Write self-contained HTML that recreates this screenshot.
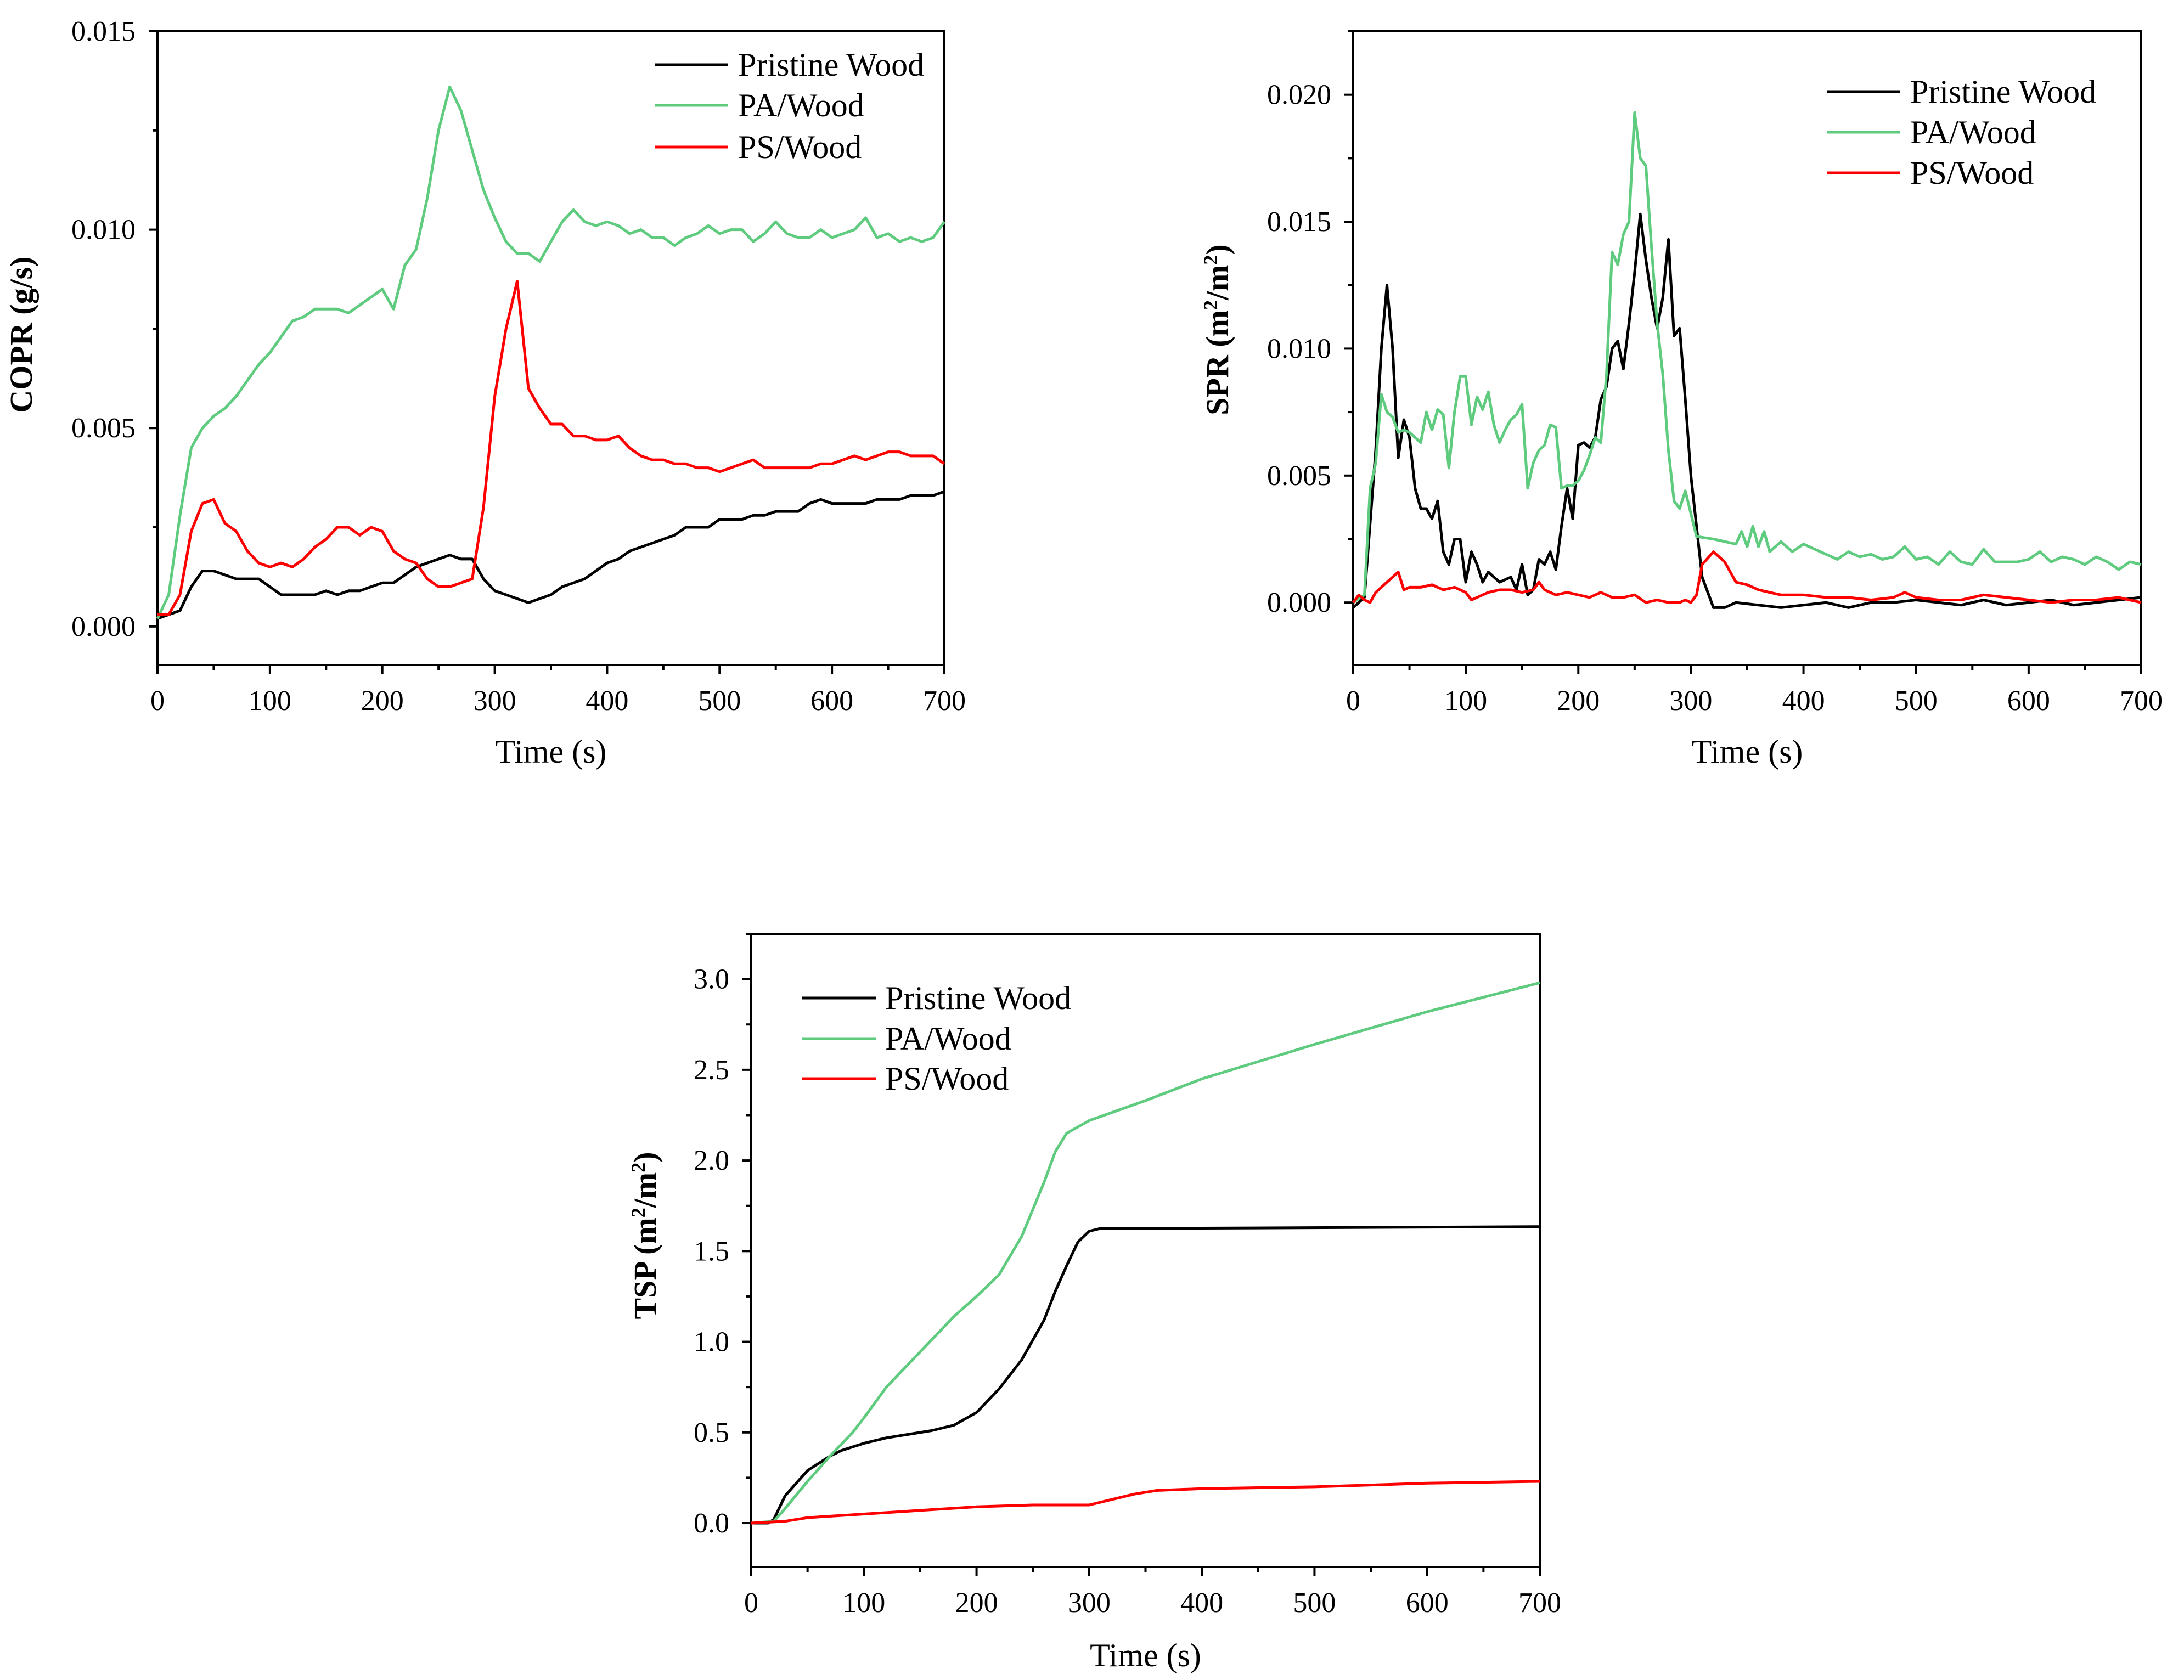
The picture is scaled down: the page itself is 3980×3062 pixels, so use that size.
<!DOCTYPE html>
<html><head><meta charset="utf-8"><style>
html,body{margin:0;padding:0;background:#fff;}
svg{display:block;font-family:"Liberation Serif",serif;}
</style></head><body>
<svg id="fig" width="3980" height="3062" viewBox="0 0 3980 3062" xmlns="http://www.w3.org/2000/svg"></svg>
<script>
// ---------- COPR data ----------
const coprTimes = [0,10,20,30,40,50,60,70,80,90,100,110,120,130,140,150,160,170,180,190,200,210,220,230,240,250,260,270,280,290,300,310,320,330,340,350,360,370,380,390,400,410,420,430,440,450,460,470,480,490,500,510,520,530,540,550,560,570,580,590,600,610,620,630,640,650,660,670,680,690,700];
const coprPristine = [0.0002,0.0003,0.0004,0.0010,0.0014,0.0014,0.0013,0.0012,0.0012,0.0012,0.0010,0.0008,0.0008,0.0008,0.0008,0.0009,0.0008,0.0009,0.0009,0.0010,0.0011,0.0011,0.0013,0.0015,0.0016,0.0017,0.0018,0.0017,0.0017,0.0012,0.0009,0.0008,0.0007,0.0006,0.0007,0.0008,0.0010,0.0011,0.0012,0.0014,0.0016,0.0017,0.0019,0.0020,0.0021,0.0022,0.0023,0.0025,0.0025,0.0025,0.0027,0.0027,0.0027,0.0028,0.0028,0.0029,0.0029,0.0029,0.0031,0.0032,0.0031,0.0031,0.0031,0.0031,0.0032,0.0032,0.0032,0.0033,0.0033,0.0033,0.0034];
const coprPA = [0.0002,0.0008,0.0028,0.0045,0.0050,0.0053,0.0055,0.0058,0.0062,0.0066,0.0069,0.0073,0.0077,0.0078,0.0080,0.0080,0.0080,0.0079,0.0081,0.0083,0.0085,0.0080,0.0091,0.0095,0.0108,0.0125,0.0136,0.0130,0.0120,0.0110,0.0103,0.0097,0.0094,0.0094,0.0092,0.0097,0.0102,0.0105,0.0102,0.0101,0.0102,0.0101,0.0099,0.0100,0.0098,0.0098,0.0096,0.0098,0.0099,0.0101,0.0099,0.0100,0.0100,0.0097,0.0099,0.0102,0.0099,0.0098,0.0098,0.0100,0.0098,0.0099,0.0100,0.0103,0.0098,0.0099,0.0097,0.0098,0.0097,0.0098,0.0102];
const coprPS = [0.0003,0.0003,0.0008,0.0024,0.0031,0.0032,0.0026,0.0024,0.0019,0.0016,0.0015,0.0016,0.0015,0.0017,0.0020,0.0022,0.0025,0.0025,0.0023,0.0025,0.0024,0.0019,0.0017,0.0016,0.0012,0.0010,0.0010,0.0011,0.0012,0.0030,0.0058,0.0075,0.0087,0.0060,0.0055,0.0051,0.0051,0.0048,0.0048,0.0047,0.0047,0.0048,0.0045,0.0043,0.0042,0.0042,0.0041,0.0041,0.0040,0.0040,0.0039,0.0040,0.0041,0.0042,0.0040,0.0040,0.0040,0.0040,0.0040,0.0041,0.0041,0.0042,0.0043,0.0042,0.0043,0.0044,0.0044,0.0043,0.0043,0.0043,0.0041];
const coprYTicks = ["0.000","0.005","0.010","0.015"];

// ---------- SPR data ----------
const sprPristineT = [0,10,20,25,30,35,40,45,50,55,60,65,70,75,80,85,90,95,100,105,110,115,120,130,140,145,150,155,160,165,170,175,180,185,190,195,200,205,210,215,220,225,230,235,240,245,250,255,260,265,270,275,280,285,290,295,300,310,320,330,340,360,380,400,420,440,460,480,500,520,540,560,580,600,620,640,660,680,700];
const sprPristine = [-0.0002,0.0002,0.006,0.010,0.0125,0.010,0.0057,0.0072,0.0065,0.0045,0.0037,0.0037,0.0033,0.0040,0.0020,0.0015,0.0025,0.0025,0.0008,0.0020,0.0015,0.0008,0.0012,0.0008,0.0010,0.0005,0.0015,0.0003,0.0005,0.0017,0.0015,0.0020,0.0013,0.0030,0.0045,0.0033,0.0062,0.0063,0.0061,0.0065,0.0080,0.0085,0.0100,0.0103,0.0092,0.0110,0.0130,0.0153,0.0135,0.0120,0.0108,0.0120,0.0143,0.0105,0.0108,0.0080,0.0050,0.0010,-0.0002,-0.0002,0,-0.0001,-0.0002,-0.0001,0,-0.0002,0,0,0.0001,0,-0.0001,0.0001,-0.0001,0,0.0001,-0.0001,0,0.0001,0.0002];
const sprPAT = [0,10,15,20,25,30,35,40,45,50,55,60,65,70,75,80,85,90,95,100,105,110,115,120,125,130,135,140,145,150,155,160,165,170,175,180,185,190,195,200,205,210,215,220,225,230,235,240,245,250,255,260,265,270,275,280,285,290,295,300,305,320,340,345,350,355,360,365,370,380,390,400,410,420,430,440,450,460,470,480,490,500,510,520,530,540,550,560,570,580,590,600,610,620,630,640,650,660,670,680,690,700];
const sprPA = [0,0.0003,0.0045,0.0055,0.0082,0.0075,0.0073,0.0067,0.0068,0.0067,0.0065,0.0063,0.0075,0.0068,0.0076,0.0074,0.0053,0.0075,0.0089,0.0089,0.0070,0.0081,0.0076,0.0083,0.0070,0.0063,0.0068,0.0072,0.0074,0.0078,0.0045,0.0055,0.0060,0.0062,0.0070,0.0069,0.0045,0.0046,0.0046,0.0048,0.0052,0.0058,0.0065,0.0063,0.0090,0.0138,0.0133,0.0145,0.0150,0.0193,0.0175,0.0172,0.0140,0.0110,0.0090,0.0060,0.0040,0.0037,0.0044,0.0035,0.0026,0.0025,0.0023,0.0028,0.0022,0.0030,0.0022,0.0028,0.0020,0.0024,0.0020,0.0023,0.0021,0.0019,0.0017,0.0020,0.0018,0.0019,0.0017,0.0018,0.0022,0.0017,0.0018,0.0015,0.0020,0.0016,0.0015,0.0021,0.0016,0.0016,0.0016,0.0017,0.0020,0.0016,0.0018,0.0017,0.0015,0.0018,0.0016,0.0013,0.0016,0.0015];
const sprPST = [0,5,10,15,20,25,30,35,40,45,50,60,70,80,90,100,105,110,120,130,140,150,160,165,170,180,190,200,210,220,230,240,250,260,270,280,290,295,300,305,310,320,330,340,350,360,370,380,390,400,420,440,460,480,490,500,520,540,560,580,600,620,640,660,680,700];
const sprPS = [0,0.0003,0.0001,0,0.0004,0.0006,0.0008,0.0010,0.0012,0.0005,0.0006,0.0006,0.0007,0.0005,0.0006,0.0004,0.0001,0.0002,0.0004,0.0005,0.0005,0.0004,0.0005,0.0008,0.0005,0.0003,0.0004,0.0003,0.0002,0.0004,0.0002,0.0002,0.0003,0,0.0001,0,0,0.0001,0,0.0003,0.0015,0.0020,0.0016,0.0008,0.0007,0.0005,0.0004,0.0003,0.0003,0.0003,0.0002,0.0002,0.0001,0.0002,0.0004,0.0002,0.0001,0.0001,0.0003,0.0002,0.0001,0,0.0001,0.0001,0.0002,0];
const sprYTicks = ["0.000","0.005","0.010","0.015","0.020"];

// ---------- TSP data ----------
const tspPristineT = [0,15,20,30,40,50,60,70,80,100,120,140,160,180,200,220,240,260,270,280,290,300,310,350,700];
const tspPristine = [0,0,0.02,0.15,0.22,0.29,0.33,0.37,0.40,0.44,0.47,0.49,0.51,0.54,0.61,0.74,0.90,1.12,1.28,1.42,1.55,1.61,1.625,1.625,1.635];
const tspPAT = [0,20,30,50,70,90,100,120,140,160,180,200,220,240,260,270,280,300,350,400,500,600,700];
const tspPA = [0,0.01,0.08,0.23,0.37,0.50,0.58,0.75,0.88,1.01,1.14,1.25,1.37,1.58,1.88,2.05,2.15,2.22,2.33,2.45,2.64,2.82,2.98];
const tspPST = [0,30,50,100,150,200,250,300,320,340,360,400,500,600,700];
const tspPS = [0,0.01,0.03,0.05,0.07,0.09,0.10,0.10,0.13,0.16,0.18,0.19,0.20,0.22,0.23];
const tspYTicks = ["0.0","0.5","1.0","1.5","2.0","2.5","3.0"];

const xTicks = ["0","100","200","300","400","500","600","700"];
const legendNames = ["Pristine Wood","PA/Wood","PS/Wood"];
const COL = {black:"#000000", green:"#5ecb7e", red:"#ff0000"};

const NS="http://www.w3.org/2000/svg";
const svg=document.getElementById('fig');
function mk(tag,attrs,parent){const e=document.createElementNS(NS,tag);for(const k in attrs)e.setAttribute(k,attrs[k]);(parent||svg).appendChild(e);return e;}

function chart(o){
  const g=mk('g',{});
  
  
  const sx=t=>o.L+(t-0)/(700-0)*(o.R-o.L);
  const sy=v=>o.B-(v-o.ymin)/(o.ymax-o.ymin)*(o.B-o.T);
  // frame
  const fr=mk('rect',{x:o.L,y:o.T,width:o.R-o.L,height:o.B-o.T,fill:'none',stroke:'#000','stroke-width':4},g);
  
  
  // x ticks
  for(let t=0;t<=700;t+=50){
    const major=t%100===0;
    const tk=mk('line',{x1:sx(t),x2:sx(t),y1:o.B,y2:o.B+(major?16:9),stroke:'#000','stroke-width':4},g);
    
    
  }
  xTicks.forEach(s=>{
    const t=mk('text',{x:sx(+s),y:o.B+82,'font-size':52,'text-anchor':'middle'},g);
    t.textContent=s;
    
    
  });
  // y ticks
  const step=+o.yt[1]-+o.yt[0];
  for(let v=+o.yt[0]-step/2; v<=o.ymax+1e-9; v+=step/2){
    if(v<o.ymin-1e-9) continue;
    const idx=Math.round((v-+o.yt[0])/(step/2));
    const major=idx%2===0;
    const tk=mk('line',{x1:o.L,x2:o.L-(major?16:9),y1:sy(v),y2:sy(v),stroke:'#000','stroke-width':4},g);
    
    
  }
  o.yt.forEach(s=>{
    const t=mk('text',{x:o.L-40,y:sy(+s)+17,'font-size':52,'text-anchor':'end'},g);
    t.textContent=s;
    
    
  });
  // titles
  const xt=mk('text',{x:(o.L+o.R)/2,y:o.xtY,'font-size':60,'text-anchor':'middle'},g);
  xt.textContent='Time (s)';
  
  
  const yt=mk('text',{x:0,y:0,'font-size':58,'font-weight':'bold','text-anchor':'middle',transform:`translate(${o.ytX},${o.ytY}) rotate(-90)`},g);
  yt.innerHTML=o.ylabel;
  
  
  // series
  o.series.forEach(s=>{
    const d=s.t.map((t,i)=>(i?'L':'M')+sx(t).toFixed(1)+','+sy(s.v[i]).toFixed(1)).join('');
    const p=mk('path',{d:d,fill:'none',stroke:s.c,'stroke-width':5,'stroke-linejoin':'round'},g);
    
    
  });
  // legend
  const lg=mk('g',{},g);
  
  
  o.series.forEach((s,i)=>{
    const y=o.lgY[i];
    const ln=mk('line',{x1:o.lgX1,x2:o.lgX2,y1:y,y2:y,stroke:s.c,'stroke-width':5},lg);
    
    
    const tx=mk('text',{x:o.lgTX,y:y+20,'font-size':60},lg);
    tx.textContent=legendNames[i];
    
    
  });
}

chart({name:'copr-chart',L:287,R:1721,T:57,B:1212,ymin:-0.00097,ymax:0.015,yt:coprYTicks,
  xtY:1390,ytX:58,ytY:610,ylabel:'COPR (g/s)',
  lgX1:1193,lgX2:1326,lgTX:1345,lgY:[118,192,268],
  series:[{n:'pristine',t:coprTimes,v:coprPristine,c:COL.black},{n:'pa',t:coprTimes,v:coprPA,c:COL.green},{n:'ps',t:coprTimes,v:coprPS,c:COL.red}]});

chart({name:'spr-chart',L:2466,R:3902,T:57,B:1212,ymin:-0.00246,ymax:0.0225,yt:sprYTicks,
  xtY:1390,ytX:2238,ytY:601,ylabel:'SPR (m<tspan baseline-shift="super" font-size="36">2</tspan>/m<tspan baseline-shift="super" font-size="36">2</tspan>)',
  lgX1:3329,lgX2:3462,lgTX:3481,lgY:[167,241,315],
  series:[{n:'pristine',t:sprPristineT,v:sprPristine,c:COL.black},{n:'pa',t:sprPAT,v:sprPA,c:COL.green},{n:'ps',t:sprPST,v:sprPS,c:COL.red}]});

chart({name:'tsp-chart',L:1369,R:2806,T:1702,B:2856,ymin:-0.242,ymax:3.25,yt:tspYTicks,
  xtY:3037,ytX:1195,ytY:2252,ylabel:'TSP (m<tspan baseline-shift="super" font-size="36">2</tspan>/m<tspan baseline-shift="super" font-size="36">2</tspan>)',
  lgX1:1462,lgX2:1596,lgTX:1613,lgY:[1819,1893,1966],
  series:[{n:'pristine',t:tspPristineT,v:tspPristine,c:COL.black},{n:'pa',t:tspPAT,v:tspPA,c:COL.green},{n:'ps',t:tspPST,v:tspPS,c:COL.red}]});
</script>
</body></html>
